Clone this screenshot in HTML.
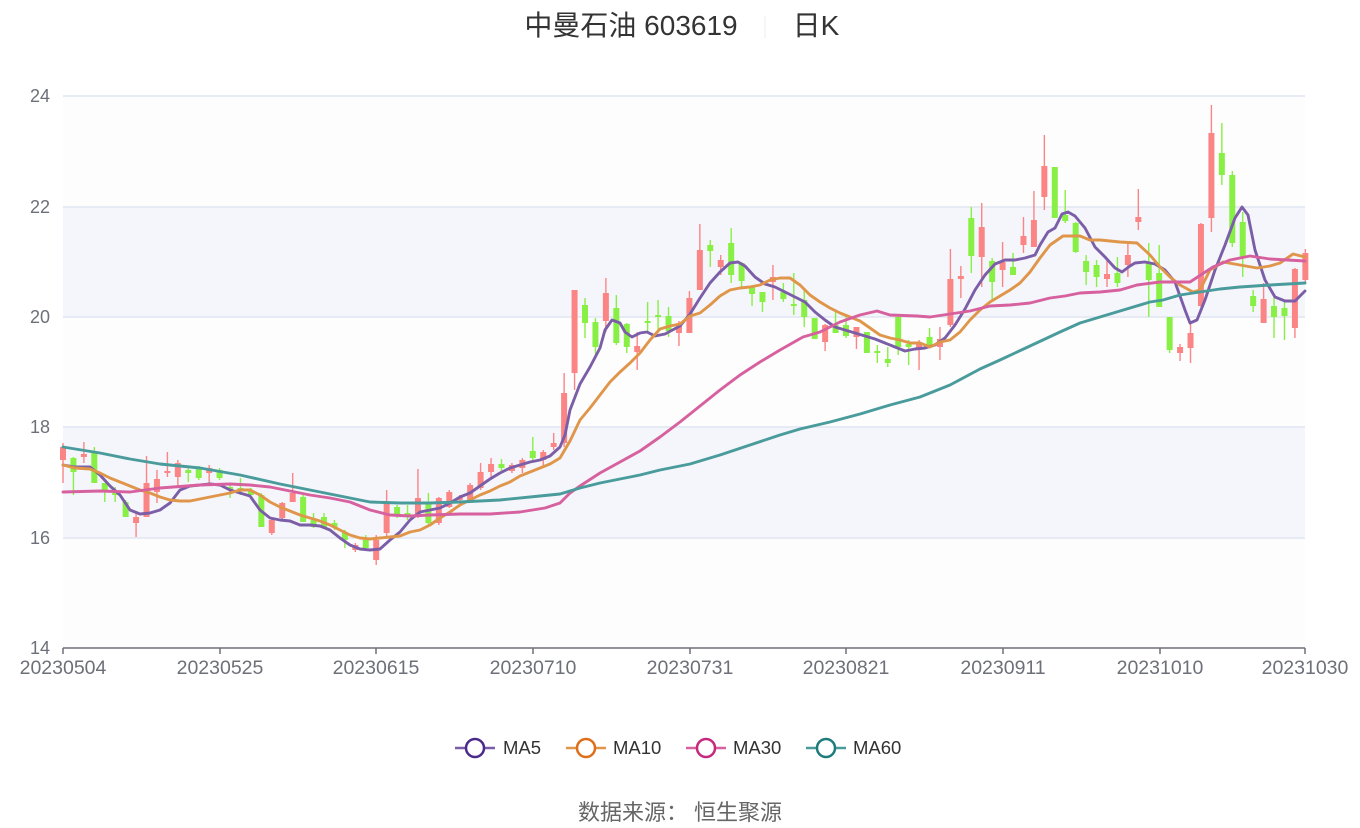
<!DOCTYPE html>
<html><head><meta charset="utf-8"><style>
html,body{margin:0;padding:0;background:#fff;}
svg{display:block;font-family:"Liberation Sans","Noto Sans CJK SC",sans-serif;}
</style></head><body>
<svg id="s" width="1360" height="828" xmlns="http://www.w3.org/2000/svg">
<rect x="63" y="96" width="1242" height="552" fill="#fdfdfe"/>
<rect x="63" y="207" width="1242" height="110" fill="#f4f6fb"/>
<rect x="63" y="427" width="1242" height="111" fill="#f4f6fb"/>
<g stroke="#e0e6f1" stroke-width="1.5">
<line x1="63" y1="96" x2="1305" y2="96"/><line x1="63" y1="207" x2="1305" y2="207"/>
<line x1="63" y1="317" x2="1305" y2="317"/><line x1="63" y1="427" x2="1305" y2="427"/>
<line x1="63" y1="538" x2="1305" y2="538"/>
</g>
<g fill="#6e7079" font-size="18" text-anchor="end">
<text x="50" y="102">24</text><text x="50" y="213">22</text><text x="50" y="323">20</text>
<text x="50" y="433">18</text><text x="50" y="544">16</text><text x="50" y="654">14</text>
</g>
<g id="c"></g>
<g id="m" fill="none" stroke-width="2.9" stroke-linejoin="round" stroke-linecap="round"></g>
<line x1="63" y1="648" x2="1305" y2="648" stroke="#6e7079" stroke-width="1.5"/>
<g stroke="#6e7079" stroke-width="1.5">
<line x1="63" y1="648" x2="63" y2="654"/><line x1="220" y1="648" x2="220" y2="654"/><line x1="376" y1="648" x2="376" y2="654"/><line x1="533" y1="648" x2="533" y2="654"/><line x1="690" y1="648" x2="690" y2="654"/><line x1="846" y1="648" x2="846" y2="654"/><line x1="1003" y1="648" x2="1003" y2="654"/><line x1="1160" y1="648" x2="1160" y2="654"/><line x1="1305" y1="648" x2="1305" y2="654"/>
</g>
<g fill="#6e7079" font-size="19.5" text-anchor="middle">
<text x="63" y="674">20230504</text><text x="220" y="674">20230525</text><text x="376" y="674">20230615</text><text x="533" y="674">20230710</text><text x="690" y="674">20230731</text><text x="846" y="674">20230821</text><text x="1003" y="674">20230911</text><text x="1160" y="674">20231010</text><text x="1305" y="674">20231030</text>
</g>
<text x="631" y="35" font-size="28" fill="#333" text-anchor="middle">中曼石油 603619</text>
<line x1="765" y1="16" x2="765" y2="38" stroke="#eee" stroke-width="1"/>
<text x="816" y="35" font-size="28" fill="#333" text-anchor="middle">日K</text>
<g font-size="18.5" fill="#333">
<line x1="455" y1="748" x2="495" y2="748" stroke="#7b5ea7" stroke-width="2.5"/><circle cx="475" cy="748" r="9" fill="#fff" stroke="#4b2a8a" stroke-width="2.5"/><text x="503" y="754">MA5</text>
<line x1="566" y1="748" x2="606" y2="748" stroke="#e0964a" stroke-width="2.5"/><circle cx="586" cy="748" r="9" fill="#fff" stroke="#dd6f1a" stroke-width="2.5"/><text x="613" y="754">MA10</text>
<line x1="686" y1="748" x2="726" y2="748" stroke="#d7609e" stroke-width="2.5"/><circle cx="706" cy="748" r="9" fill="#fff" stroke="#c6287c" stroke-width="2.5"/><text x="733" y="754">MA30</text>
<line x1="806" y1="748" x2="846" y2="748" stroke="#4a9b9b" stroke-width="2.5"/><circle cx="826" cy="748" r="9" fill="#fff" stroke="#1e7b7b" stroke-width="2.5"/><text x="853" y="754">MA60</text>
</g>
<text x="680" y="820" font-size="22" fill="#666" text-anchor="middle">数据来源： 恒生聚源</text>
</svg>
<script>
var C=[
"r447,460,443,483","g458,472,457,495","r454,457,442,463","g452,483,447,483","g483,492,483,502","g492,495,487,502","g502,517,500,517","r517,523,513,537","r483,517,456,517","r479,492,470,503",
"r471,473,452,477","r463,477,460,487","g470,473,468,482","g468,478,466,480","r468,473,465,483","g470,478,468,480","g487,490,485,498","g488,490,478,495","g490,495,488,495","g495,527,493,527",
"r520,533,518,535","r503,518,502,520","r493,502,473,502","g497,522,495,522","g520,527,513,528","g517,527,513,528","g523,527,520,530","g532,540,530,548","r545,550,543,552","g540,548,535,548",
"r540,560,535,565","r503,533,490,537","g507,515,505,518","g513,517,505,520","r498,517,469,518","g502,523,493,527","r498,523,497,525","r492,507,490,508","r497,500,495,503","r485,502,483,503",
"r472,488,463,490","r464,472,458,478","g464,468,459,473","r465,471,463,473","r460,468,458,473","g451,458,437,460","r452,460,450,467","r443,447,433,450","r393,443,373,447","r290,373,290,390",
"g305,323,298,338","g322,347,318,355","r293,321,278,332","g308,343,295,345","g324,347,323,353","r346,352,332,370","g321,323,302,333","g315,317,300,332","g316,331,307,337","r324,333,321,346",
"r298,333,291,333","r250,290,224,290","g245,251,240,267","r260,267,255,275","g243,275,228,283","g263,281,262,288","g287,294,285,306","g292,302,292,312","r277,282,265,300","g292,299,283,302",
"g304,306,273,315","g300,317,289,327","g318,339,318,339","r325,342,324,351","g325,333,312,333","g325,336,315,338","r327,337,327,349","g332,353,332,353","g351,353,345,363","g359,363,347,367",
"g317,347,315,355","g344,347,340,365","r343,348,340,370","g337,347,328,348","r339,347,327,360","r279,325,249,327","r276,279,266,298","g218,256,207,273","r227,257,203,287","g261,282,258,302",
"r262,270,242,287","g267,275,253,275","r236,245,217,253","r220,247,191,247","r166,197,135,210","g167,218,167,218","g215,221,190,223","g223,252,222,253","g261,272,255,285","g265,277,260,287",
"r274,279,260,287","g273,283,257,287","r255,265,243,277","r217,222,189,230","g263,280,243,317","g273,307,245,307","g317,350,317,353","r347,353,344,361","r333,348,323,363","r224,306,223,307",
"r133,218,105,232","g153,175,123,185","g175,243,171,247","g222,257,212,277","g296,306,290,312","r299,323,283,323","g306,317,295,338","g308,316,300,340","r269,328,268,338","r253,280,249,282"];
var g=document.getElementById("c"),h="";
C.forEach(function(s,i){var col=s[0]=="r"?"#fb8585":"#88f044",v=s.slice(1).split(",").map(Number),x=63+10.44*i;
h+='<line x1="'+x+'" x2="'+x+'" y1="'+v[2]+'" y2="'+v[3]+'" stroke="'+col+'" stroke-width="1.4"/>';
h+='<rect x="'+(x-3)+'" y="'+v[0]+'" width="6" height="'+Math.max(1.5,v[1]-v[0])+'" fill="'+col+'"/>';});
g.innerHTML=h;
var L={
"#7b5ea7":"63,465 75,467 90,467 100,475 110,486 120,495 130,510 140,514 150,513 160,510 170,503 180,490 190,486 200,485 210,484 220,485 230,490 240,493 250,496 260,510 270,518 280,520 290,521 300,525 310,525 320,526 330,530 340,538 350,545 360,549 370,550 380,549 390,540 400,532 410,520 420,512 430,510 440,508 450,503 460,497 470,493 480,486 490,479 500,473 510,468 520,465 530,462 540,460 550,456 560,447 565,435 570,410 580,384 590,367 600,348 605,330 612,320 620,323 625,332 632,337 640,333 647,332 655,336 665,334 680,326 690,314 700,298 710,283 720,272 730,263 738,262 745,266 755,277 765,284 775,287 785,292 795,297 805,302 815,312 825,320 835,327 845,330 855,333 865,336 875,339 885,343 895,347 905,351 915,349 925,348 935,345 945,338 955,325 965,309 975,290 985,275 995,264 1005,260 1015,260 1025,258 1035,255 1040,245 1048,232 1055,228 1062,214 1068,212 1075,216 1085,228 1095,247 1105,257 1115,268 1122,272 1130,266 1135,263 1145,262 1155,264 1165,270 1175,282 1185,310 1190,323 1197,320 1205,300 1215,270 1225,245 1235,218 1242,207 1248,215 1255,250 1265,280 1275,297 1285,301 1295,301 1305,291",
"#e0964a":"63,465 75,468 90,469 100,473 110,478 120,482 130,486 140,490 150,493 160,497 170,500 180,501 190,501 200,499 210,497 220,495 230,493 240,490 250,490 260,495 270,502 280,507 290,511 300,515 310,518 320,521 330,525 340,530 350,535 360,538 370,539 380,538 390,537 400,536 410,532 420,530 430,525 440,518 450,512 460,505 470,500 480,495 490,491 500,486 510,482 520,476 530,472 540,468 550,464 560,458 570,441 580,420 590,408 600,395 610,382 620,372 630,363 640,353 650,340 660,329 670,326 680,324 690,316 700,313 710,305 720,296 730,290 740,288 750,287 760,285 770,280 780,278 790,278 800,285 810,295 820,302 830,308 840,313 850,317 860,321 870,328 880,335 890,338 900,340 910,343 920,343 930,347 940,342 950,340 960,332 970,320 980,310 990,302 1000,296 1010,290 1020,283 1030,272 1040,258 1050,245 1063,236 1080,236 1090,240 1100,240 1110,241 1120,242 1137,243 1150,255 1160,267 1170,277 1180,285 1193,292 1200,290 1210,270 1223,262 1240,265 1257,268 1270,266 1280,263 1293,254 1305,257",
"#d7609e":"63,492 100,491 130,492 160,488 200,485 230,484 250,485 270,487 290,491 310,495 330,498 350,502 370,510 390,515 410,516 430,515 460,514 490,514 520,512 545,508 560,503 570,493 580,486 600,473 620,462 640,451 660,437 680,422 700,406 720,390 740,375 760,362 780,350 803,337 820,332 840,322 860,315 877,311 890,315 917,316 930,317 950,314 970,311 990,306 1010,305 1030,303 1050,298 1065,296 1080,293 1100,292 1120,290 1137,285 1160,282 1190,282 1213,267 1230,260 1250,256 1270,259 1305,261",
"#4a9b9b":"63,447 100,453 130,459 160,464 200,468 240,475 280,484 310,490 340,496 370,502 400,503 430,503 460,502 500,500 540,496 560,494 580,488 600,483 620,479 640,475 660,470 690,464 720,455 750,445 780,435 800,429 830,422 860,414 890,405 920,397 950,385 980,369 1000,360 1030,346 1060,332 1080,323 1120,311 1150,302 1163,300 1180,295 1200,292 1220,289 1240,287 1270,285 1305,283"};
var m="";for(var k in L)m+='<polyline stroke="'+k+'" points="'+L[k]+'"/>';
document.getElementById("m").innerHTML=m;
</script>
</body></html>
